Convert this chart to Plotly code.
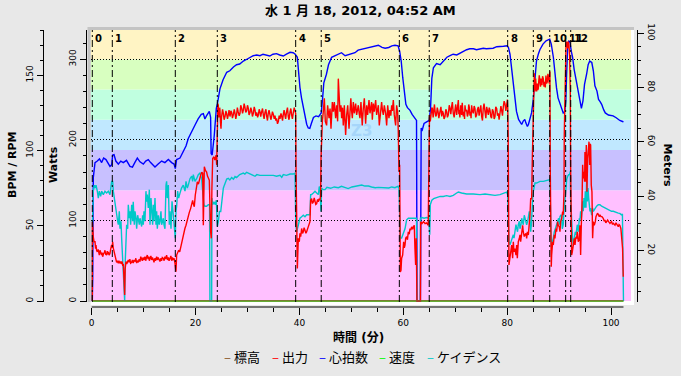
import plotly.graph_objects as go

# ---------------- text ----------------
TITLE = "水 1 月 18, 2012, 04:52 AM"
X_TITLE = "時間 (分)"
Y_TITLES = ["BPM / RPM", "Watts", "Meters"]
SERIES_NAMES = ["標高", "出力", "心拍数", "速度", "ケイデンス"]
SERIES_COLORS = ["#8b5a2b", "#ff0000", "#0000ff", "#00ff00", "#00c8c8"]

# ---------------- laps ----------------
LAP_TIMES = [0.12, 3.97, 16.1, 24.19, 39.28, 44.2, 59.24, 65.0, 80.1, 85.04, 88.2, 91.27, 92.24]
LAP_LABELS = ["0", "1", "2", "3", "4", "5", "6", "7", "8", "9", "10", "11", "12"]

# ---------------- power zones (W) ----------------
ZONE_LOW = [0, 137.5, 187.5, 225, 262.5, 300]
ZONE_HIGH = [137.5, 187.5, 225, 262.5, 300, 336.4]
ZONE_COLORS = ["#ffc0ff", "#c8c0ff", "#c0e8ff", "#c0ffe0", "#d8ffc0", "#fff4c4"]
ZONE_LABEL = ["Z3"]
ZONE_LABEL_T = [52.0]
ZONE_LABEL_W = [210.0]

# ---------------- series (time in minutes) ----------------
HR_PTS = [
(0.12,0),(0.2,15),(0.31,82),(0.64,92),(1.08,93),(1.5,94.4),(1.92,92),(2.3,95),(2.75,94),(3.2,91),(3.52,89.5),
(3.85,90.5),(4.04,97),(4.3,97.3),(4.65,93),(5.13,91),(5.6,93),(6.09,92),(6.7,93.5),(7.37,89.5),(7.85,89),
(8.3,92),(8.79,95),(9.3,92.5),(9.94,91),(10.4,93),(10.9,94),(11.35,92),(12.19,89),(12.8,91),(13.47,93),
(14.1,92),(14.76,94),(15.4,92),(15.86,91),(16.1,88),(16.35,94),(17.0,95),(17.6,99.5),(18.16,103),(18.6,108),
(19.26,113),(19.9,117),(20.5,121),(21.1,124),(21.5,124.5),(21.8,121),(22.1,123),(22.65,126),(22.9,122),
(23.0,98),(23.2,97),(23.6,110),(24.0,128),(24.2,131),(24.7,141),(25.3,147),(26.0,152),(26.6,153),(27.3,155.5),
(27.9,157),(28.5,157.5),(29.2,159.5),(29.8,160.5),(30.5,162),(31.1,163),(31.8,163.5),(32.4,163),(33.0,164),
(33.7,163.5),(34.3,162.8),(34.9,164),(35.6,164.4),(36.2,163.5),(36.9,162.8),(37.5,164),(38.2,165.3),(38.8,165),
(39.2,164),(39.6,162),(39.8,150.7),(40.1,142),(40.4,135),(40.8,127),(41.1,122),(41.4,117.5),(41.7,115),
(42.0,114.7),(42.3,118),(42.7,122),(43.2,123),(43.7,122.5),(44.0,124),(44.2,125),(44.45,134),(44.7,145),
(45.2,150.7),(45.6,157),(46.2,162),(46.85,163),(47.5,164),(48.1,165),(48.8,163),(49.4,163.5),(50.0,164),
(50.7,165),(51.3,166.7),(52.0,167.3),(52.6,167.6),(53.3,168),(53.9,168.5),(54.6,169.6),(55.2,170),(55.9,168.5),
(56.5,168),(57.2,168.5),(57.8,169.6),(58.4,170),(59.0,169.6),(59.3,166),(59.6,159.5),(59.9,148.4),(60.2,137),
(60.5,130.7),(60.8,128.5),(61.3,126.7),(61.7,124),(62.2,121.8),(62.55,120),(62.65,0),(63.3,0),(63.35,36),
(63.45,115),(63.6,113),(64.0,118),(64.5,119),(65.0,120),(65.25,128),(65.5,148),(65.8,155),(66.4,157.8),
(67.1,157),(67.7,159.5),(68.4,162),(69.0,163),(69.6,164),(70.3,163.5),(70.9,164.5),(71.5,166),(72.2,167),
(72.8,167.6),(73.5,167.6),(74.1,167),(74.8,167.6),(75.4,168),(76.0,167.6),(76.7,167.6),(77.3,168),(78.0,169),
(78.6,169),(79.3,169.3),(80.0,169.6),(80.25,168.5),(80.55,164),(80.9,153),(81.2,141.8),(81.5,133),(81.8,126),
(82.2,120.7),(82.5,118.4),(82.8,117.3),(83.1,119.6),(83.4,120.7),(83.6,118.4),(83.9,116),(84.1,117.3),
(84.4,120.7),(84.7,125),(85.0,133),(85.35,148),(85.65,159.5),(86.0,164),(86.3,167),(86.9,170.7),(87.5,172.9),
(88.2,174),(88.5,170.7),(88.9,162),(89.2,150.7),(89.5,141.8),(89.8,135),(90.2,130.7),(90.5,127),(90.8,125),
(91.1,126),(91.3,133),(91.45,150),(91.65,168),(91.85,173),(92.1,172),(92.35,166),(92.6,162),(92.9,154),
(93.3,146),(93.7,139.5),(94.0,133),(94.3,128),(94.6,133),(94.9,144),(95.3,150.7),(95.6,157),(95.9,159.5),
(96.3,158.5),(96.6,153),(96.9,143),(97.3,139.5),(97.6,134),(97.9,132.5),(98.2,130.7),(98.6,127),(98.9,125),
(99.5,123.6),(100.4,123),(101.0,121.8),(101.4,120.7),(101.7,120),(102.2,119.3),(102.4,119)]

PW_PTS = [
(0.12,0),(0.14,98),(0.3,80),(0.45,73.6),(0.64,73.6),(0.75,65),(0.83,69.5),(0.95,63),(1.08,61),(1.25,64),
(1.35,58),(1.47,57),(1.6,63),(1.73,61),(1.9,57),(2.0,60),(2.11,55),(2.3,59),(2.45,60),(2.56,63),(2.7,58),
(2.88,57),(3.0,62),(3.1,58),(3.2,61),(3.35,57),(3.52,59),(3.65,64),(3.84,69.5),(3.95,66),(4.04,73.6),
(4.15,66),(4.29,61),(4.45,57),(4.55,52),(4.68,51),(4.8,48),(4.95,50),(5.13,46.8),(5.25,50),(5.4,47),
(5.58,49),(5.7,46),(5.85,49),(5.96,44.7),(6.1,45),(6.22,28),(6.35,7.4),(6.45,40),(6.6,49),(6.75,46),
(6.9,50),(7.05,51),(7.2,48),(7.35,52),(7.5,47),(7.7,48),(7.85,51),(8.0,47),(8.15,50),(8.34,49.6),(8.5,53),
(8.65,47),(8.8,50),(8.98,48),(9.15,52),(9.3,49),(9.45,55),(9.62,53),(9.75,50),(9.9,54),(10.05,51),(10.26,55),
(10.4,50),(10.55,54),(10.71,57),(10.85,52),(11.0,55),(11.1,50),(11.23,53),(11.4,56),(11.55,51),(11.7,54),
(11.87,51),(12.0,48),(12.15,53),(12.3,50),(12.51,55),(12.65,51),(12.8,54),(13.0,50),(13.15,49),(13.3,53),
(13.45,50),(13.6,54),(13.79,53),(13.95,50),(14.1,55),(14.25,52),(14.43,57),(14.6,51),(14.75,54),(14.9,50),
(15.08,53),(15.25,56),(15.4,50),(15.55,54),(15.72,51),(15.88,53),(16.04,46.8),(16.15,40),(16.23,36.4),
(16.36,57),(16.55,60),(16.75,63),(16.95,61),(17.13,67),(17.3,70),(17.52,77.8),(17.77,88),(17.95,90),
(18.16,94),(18.35,100),(18.6,106.7),(18.8,110),(19.06,115),(19.25,120),(19.44,125),(19.6,120),(19.76,117),
(19.95,131.6),(20.15,140),(20.34,148),(20.55,145),(20.73,150),(20.85,155),(20.98,156),(21.2,160),
(21.37,158.5),(21.5,94),(21.6,160),(21.69,166.7),(21.9,162),(22.13,160),(22.3,155),(22.45,152),(22.65,150),
(22.9,86),(23.03,77.8),(23.15,140),(23.3,177),(23.55,179),(23.7,175),(23.8,177),(23.95,181),(24.07,169),
(24.19,235),(24.3,245),(24.38,243),(24.48,228),(24.58,231),(24.65,240),(24.7,237),(24.8,222),(24.9,214),
(25.0,228),(25.1,231),(25.2,238),(25.35,233),(25.5,225),(25.67,229),(25.85,236),(26.0,232),(26.15,226),
(26.3,231),(26.45,237),(26.63,229),(26.8,236),(26.95,234),(27.1,227),(27.27,231),(27.45,238),(27.6,233),
(27.75,226),(27.9,231),(28.05,240),(28.2,235),(28.4,230),(28.56,233),(28.7,243),(28.88,239),(29.05,233),
(29.2,237),(29.35,245),(29.5,241),(29.67,234),(29.84,236),(30.0,243),(30.16,239),(30.3,231),(30.48,234),
(30.65,240),(30.8,236),(30.95,229),(31.12,233),(31.3,241),(31.45,237),(31.6,230),(31.77,234),(31.95,228),
(32.1,231),(32.25,238),(32.4,235),(32.55,229),(32.7,234),(32.9,239),(33.05,231),(33.2,226),(33.37,234),
(33.55,238),(33.7,229),(33.85,224),(34.0,233),(34.15,237),(34.33,231),(34.5,225),(34.65,229),(34.8,235),
(34.97,232),(35.15,226),(35.3,230),(35.45,224),(35.6,226.7),(35.78,220),(35.94,222.6),(36.1,230),(36.26,226),
(36.45,233),(36.6,229),(36.75,224),(36.9,232),(37.05,237),(37.2,231),(37.35,226),(37.5,234),(37.7,240),
(37.86,229),(38.0,225),(38.2,235),(38.35,239),(38.5,231),(38.65,226),(38.83,234),(39.0,240),(39.15,236),
(39.28,233),(39.34,169),(39.47,53),(39.6,40.5),(39.79,77.8),(39.98,73.6),(40.1,84),(40.25,80),(40.43,90),
(40.6,84),(40.75,86),(40.9,91),(41.07,88),(41.25,84),(41.39,86),(41.55,90),(41.71,92),(41.85,95),(42.03,98.5),
(42.16,125),(42.35,127),(42.5,121),(42.68,123),(42.85,128),(43.0,125),(43.15,120),(43.32,121),(43.5,126),
(43.64,123),(43.8,127),(43.96,125),(44.08,130),(44.16,177),(44.28,214),(44.41,222.6),(44.6,235),(44.8,251.6),
(44.99,222.6),(45.24,218),(45.43,243),(45.7,227),(45.9,239),(46.08,214),(46.34,247),(46.53,235),(46.72,247),
(46.98,227),(47.17,243),(47.36,223),(47.49,276),(47.62,247),(47.81,235),(48.0,243),(48.13,227),(48.3,240),
(48.45,218),(48.65,243),(48.9,206),(49.1,231),(49.3,243),(49.55,214),(49.74,239),(49.9,251.6),(50.05,236),
(50.19,227),(50.38,247),(50.57,233),(50.83,245),(51.02,231),(51.2,238),(51.34,243),(51.5,233),(51.66,227),
(51.85,247),(52.1,218),(52.3,239),(52.5,251.6),(52.75,220),(52.95,243),(53.14,231),(53.4,249.5),(53.59,233),
(53.75,240),(53.9,247),(54.04,225),(54.23,245),(54.42,235),(54.68,249.5),(54.87,231),(55.05,238),(55.2,243),
(55.38,218),(55.6,237),(55.83,247),(56.0,236),(56.16,231),(56.35,243),(56.6,233),(56.8,218),(57.0,243),
(57.24,227),(57.43,237),(57.6,230),(57.76,243),(57.9,236),(58.08,249.5),(58.27,231),(58.53,218),(58.72,243),
(58.91,235),(59.04,210),(59.17,160.5),(59.3,169),(59.43,36),(59.56,38),(59.68,53),(59.88,57),(60.07,73.6),
(60.2,66),(60.33,69.5),(60.46,77.8),(60.65,80),(60.8,76),(60.97,86),(61.15,83),(61.29,90),(61.45,88),
(61.6,92),(61.8,89),(61.93,92),(62.12,94),(62.25,65),(62.38,44.7),(62.5,77.8),(62.63,0),(63.3,0),
(63.35,98.5),(63.6,96),(63.9,98.5),(64.2,96),(64.5,97),(64.8,94),(64.95,158),(65.05,231),(65.2,223),
(65.35,231),(65.5,240),(65.6,239),(65.75,228),(65.85,233),(66.0,244),(66.1,237),(66.25,229),(66.4,231),
(66.55,240),(66.7,235),(66.85,227),(67.0,233),(67.1,235),(67.25,241),(67.4,229),(67.55,236),(67.7,233),
(67.85,226),(68.03,229),(68.2,238),(68.35,235),(68.5,228),(68.67,231),(68.85,243),(68.99,239),(69.15,232),
(69.3,241),(69.45,247),(69.63,233),(69.8,228),(69.95,237),(70.1,244),(70.28,231),(70.45,238),(70.6,249.5),
(70.7,232),(70.79,237),(70.9,228),(71.05,243),(71.15,236),(71.24,231),(71.35,246),(71.43,241),(71.55,229),
(71.69,235),(71.8,226),(71.88,243),(72.0,236),(72.2,237),(72.35,229),(72.5,233),(72.6,244),(72.7,241),
(72.85,230),(72.97,235),(73.05,227),(73.16,243),(73.3,236),(73.48,233),(73.65,242),(73.8,239),(73.95,228),
(74.13,231),(74.3,238),(74.45,241),(74.6,230),(74.77,235),(74.93,243),(75.09,229),(75.25,224),(75.4,239),
(75.55,245),(75.74,235),(75.9,227),(76.06,241),(76.2,233),(76.38,231),(76.55,240),(76.7,237),(76.85,229),
(77.0,227),(77.17,238),(77.34,235),(77.5,226),(77.66,229),(77.8,241),(77.98,239),(78.15,230),(78.3,233),
(78.45,225),(78.62,231),(78.8,242),(78.94,237),(79.1,230),(79.26,241),(79.42,248),(79.58,245),(79.75,236),
(79.9,243),(80.05,250),(80.12,239),(80.2,202),(80.35,44.7),(80.55,53),(80.67,57),(80.87,69.5),(81.06,53),
(81.19,73.6),(81.32,61),(81.5,65),(81.7,57),(81.83,69.5),(81.96,53),(82.15,73.6),(82.35,77.8),(82.47,82),
(82.6,73.6),(82.8,90),(82.99,94),(83.1,86),(83.3,80),(83.44,82),(83.63,84),(83.76,77.8),(83.89,86),(84.08,82),
(84.27,94),(84.4,106.7),(84.53,127),(84.72,127),(84.85,177),(84.98,218.5),(85.1,243),(85.23,282.6),(85.36,260),
(85.49,276),(85.6,265),(85.68,260),(85.81,270),(85.9,262),(86.0,264),(86.1,274),(86.19,280),(86.32,272),
(86.42,266),(86.5,276),(86.6,270),(86.7,268),(86.82,279),(86.96,276),(87.1,266),(87.22,272),(87.35,265),
(87.47,280),(87.6,270),(87.73,272),(87.85,282),(87.99,278),(88.1,270),(88.24,285),(88.3,165),(88.37,44.7),
(88.5,42.6),(88.57,57),(88.76,73.6),(88.89,69.5),(89.08,82),(89.21,77.8),(89.4,90),(89.53,86),(89.72,98.5),
(89.85,94),(90.04,92),(90.17,86),(90.3,98.5),(90.5,102.6),(90.69,111),(90.8,107),(90.95,135.7),(91.0,206),
(91.14,260),(91.27,280),(91.33,317.8),(91.46,322),(91.65,313.6),(91.78,322),(91.9,317.8),(92.03,305),
(92.16,260),(92.22,169),(92.3,77.8),(92.42,57),(92.55,61),(92.74,73.6),(92.94,77.8),(93.06,69.5),(93.25,79.6),
(93.38,77.8),(93.5,86),(93.7,73.6),(93.9,77.8),(94.0,94),(94.15,57),(94.28,94),(94.4,115),(94.54,169),
(94.66,152),(94.79,160.5),(94.92,148),(94.98,185),(95.1,148),(95.24,193.6),(95.37,135.7),(95.5,177),
(95.6,189.5),(95.76,197.8),(95.89,169),(95.95,195),(96.08,193.6),(96.2,144),(96.33,135.7),(96.46,77.8),
(96.6,98.5),(96.78,94),(96.98,98.5),(97.1,104.7),(97.23,107),(97.4,109),(97.55,107.6),(97.74,104.7),
(97.87,107),(98.07,104.7),(98.26,104.7),(98.5,102.6),(98.7,99),(98.83,100.5),(99.0,97),(99.16,98.5),
(99.35,100.5),(99.54,98.5),(99.8,96.4),(100.1,98.5),(100.3,95),(100.45,96.4),(100.77,94),(100.95,97),
(101.1,95),(101.4,92.3),(101.55,95),(101.7,94),(101.9,90),(102.1,77.8),(102.23,65),(102.3,44.7),(102.36,30)]

CAD_PTS = [
(0.12,0),(0.15,53),(0.31,73),(0.5,77),(0.64,75),(0.83,77),(1.08,73),(1.28,68.4),(1.47,73),(1.73,69.5),
(1.92,73),(2.24,70.7),(2.56,73),(2.88,71.8),(3.2,73),(3.52,70.7),(3.84,79.5),(4.04,79.5),(4.17,73),(4.49,64),
(4.81,55),(5.0,53),(5.13,50.7),(5.32,59.6),(5.45,48),(5.64,53),(5.77,41.8),(5.96,28),(6.09,10.7),(6.22,0),
(6.35,0),(6.48,28),(6.73,50.7),(6.93,48),(7.05,64),(7.25,55),(7.37,59.6),(7.5,50.7),(7.7,64),(7.89,53),
(8.0,66),(8.21,50.7),(8.34,59.6),(8.53,55),(8.66,48),(8.85,57),(8.98,53),(9.17,50.7),(9.3,55),(9.49,50.7),
(9.62,49.5),(9.81,57),(9.94,50.7),(10.07,59.6),(10.26,53),(10.45,73),(10.58,66),(10.71,70.7),(10.9,61.8),
(11.1,74),(11.23,50.7),(11.42,68.4),(11.55,59.6),(11.74,50.7),(11.87,64),(12.0,53),(12.19,68.4),(12.38,50.7),
(12.51,59.6),(12.64,48),(12.83,57),(13.02,50.7),(13.15,53),(13.34,59.6),(13.47,50.7),(13.79,55),(13.92,50.7),
(14.11,48),(14.31,77),(14.43,79.5),(14.56,68.4),(14.76,77),(14.95,50.7),(15.08,59.6),(15.27,48),(15.47,66.2),
(15.72,57),(15.91,50.7),(16.1,41.8),(16.23,59.6),(16.36,63),(16.55,73),(16.75,68.4),(17.0,71.7),(17.3,75),
(17.64,77),(17.97,73),(18.16,79.5),(18.41,75),(18.6,77),(18.93,81.3),(19.26,83),(19.44,79.5),(19.57,84),
(19.89,79.5),(20.2,81.3),(20.53,84),(20.85,85),(21.17,81.3),(21.37,73),(21.62,64),(21.8,63),(22.13,63),
(22.45,64),(22.7,64),(22.77,0),(23.1,0),(23.16,68.4),(23.3,64),(23.55,66),(23.8,64),(24.0,67),(24.1,50.7),
(24.2,49.5),(24.4,52.9),(24.6,59.5),(24.85,59.5),(25.05,66),(25.25,73),(25.35,75),(25.55,77),(25.75,78.4),
(26.0,81),(26.3,81.5),(26.6,80.4),(26.95,82),(27.3,81),(27.6,82.7),(27.9,82),(28.5,84),(28.9,84.4),(29.2,85),
(29.5,84.4),(29.84,85.5),(30.16,85),(30.5,84.6),(30.8,84),(31.1,83.5),(31.45,82.9),(31.8,84),(32.4,83.5),
(33.0,83.5),(33.7,84),(34.3,83.5),(34.97,83.5),(35.6,82.9),(36.26,83.5),(36.6,82.2),(36.9,84),(37.5,83.5),
(38.2,84.4),(38.83,84.4),(39.15,85),(39.3,50.7),(39.47,46),(39.8,50.7),(40.1,55),(40.43,56),(40.75,57),
(41.07,56),(41.4,57.3),(41.7,57.3),(42.03,57.3),(42.16,70.7),(42.35,70.7),(42.68,71.8),(43.0,73),(43.32,71.8),
(43.64,70.7),(43.83,76),(43.96,75),(44.16,59.5),(44.28,75),(44.6,74),(44.93,74),(45.3,75.5),(46.0,74.9),
(46.7,75.8),(47.5,75.3),(48.1,76.2),(48.8,75.5),(49.4,74.7),(50.1,75.8),(50.8,76.4),(51.3,76.7),(52.0,77.1),
(52.6,76.4),(53.3,76.4),(53.9,75.8),(54.6,75.3),(55.2,75.5),(55.9,75.3),(56.5,75.5),(57.2,75.1),(57.8,75.8),
(58.4,75.3),(58.9,76.2),(59.17,75),(59.3,57),(59.43,41.8),(59.68,41.8),(59.88,44),(60.07,46),(60.33,48),
(60.65,54),(60.97,55),(61.5,55),(62.0,55),(62.55,55),(62.63,0),(63.28,0),(63.3,55),(63.6,55.5),(64.0,55),
(64.5,55.5),(64.9,55),(64.97,46),(65.1,44),(65.2,64),(65.35,66),(65.5,67),(65.85,68),(66.4,68.7),(67.1,69.5),
(67.7,69.5),(68.35,70),(68.99,69.5),(69.63,70.2),(70.28,71.8),(70.6,72.4),(71.24,71.8),(72.2,71.1),(73.48,71.1),
(74.77,70.7),(75.74,71.1),(76.7,70.7),(77.66,70.2),(78.62,70.7),(79.26,71.8),(79.9,72.4),(80.1,70.7),(80.2,53),
(80.35,39.5),(80.55,37.3),(80.74,39.5),(80.87,41.8),(81.06,44),(81.19,44),(81.32,41.8),(81.5,46),(81.7,50.7),
(81.83,48.4),(82.0,46),(82.15,50.7),(82.35,53),(82.47,48),(82.67,50.7),(82.8,55),(82.99,51.8),(83.1,50.7),
(83.3,57),(83.5,53),(83.76,50.7),(83.95,53),(84.15,58),(84.27,59.6),(84.4,53),(84.53,46),(84.66,50.7),
(84.8,64),(84.92,68.4),(85.05,73),(85.17,76),(85.36,78.4),(85.68,78.4),(86.0,79),(86.32,79.5),(86.96,79.5),
(87.6,80),(88.24,80.7),(88.3,68.4),(88.4,41.8),(88.5,37.3),(88.7,39.5),(88.89,41.8),(89.08,46),(89.27,48),
(89.53,50.7),(89.72,53),(89.91,55),(90.04,50.7),(90.17,56),(90.37,57.3),(90.5,56),(90.62,48),(90.8,50.7),
(90.95,59.6),(91.14,66.2),(91.27,75),(91.46,80.7),(91.65,82.9),(91.85,84),(92.03,84),(92.16,86.2),(92.22,68.4),
(92.35,55),(92.48,50.7),(92.6,41.8),(92.74,37.3),(92.94,41.8),(93.12,46),(93.25,44),(93.38,48),(93.5,50.7),
(93.7,46),(93.9,55),(94.0,53),(94.15,59.6),(94.28,55),(94.4,59.6),(94.54,66.2),(94.66,59.6),(94.79,68.4),
(94.92,62),(95.05,73),(95.18,62),(95.3,79.5),(95.44,66.2),(95.57,75),(95.7,68.4),(95.83,64),(95.95,59.6),
(96.08,61.8),(96.27,57),(96.46,61.8),(96.6,59.6),(96.78,60.5),(96.98,61.8),(97.23,63),(97.55,64),(97.87,64),
(98.2,63),(98.5,62.4),(98.83,61.8),(99.16,61.3),(99.48,60.7),(99.8,60.2),(100.1,59.6),(100.45,59.6),
(100.77,59.1),(101.1,59.1),(101.4,58.4),(101.7,58.2),(102.0,57.3),(102.2,57.8),(102.3,33),(102.36,19.6),
(102.4,0)]

ELEV_T = [0.12, 102.4]
ELEV_M = [1.5, 1.5]
SPEED_T = [0.12, 102.4]
SPEED_V = [0, 0]

# ---------------- axis scales ----------------
X_RANGE = [-0.19, 103.85]
WATT_RANGE = [-1.24, 336.4]
BPM_RANGE = [-0.66, 180.1]
METER_RANGE = [1.10, 101.2]

# ---------------- layout geometry (pixels) ----------------
FIG_W, FIG_H = 681, 376
PX_L, PX_R, PX_T, PX_B = 43, 637, 30, 307
CANVAS_L, CANVAS_R, CANVAS_B = 90.7, 631, 302
WATT_AXIS_X = 86
BG = "#e8e8e8"

def fx(px):
    return (px - PX_L) / (PX_R - PX_L)

def fy(py):
    return (PX_B - py) / (PX_B - PX_T)

def unzip(pts):
    return [p[0] for p in pts], [p[1] for p in pts]

FONT = "DejaVu Sans, Noto Sans CJK JP, sans-serif"
CJK = "Noto Sans CJK JP, DejaVu Sans, sans-serif"

fig = go.Figure()

fig.add_trace(go.Scatter(x=ZONE_LABEL_T, y=ZONE_LABEL_W, mode="text", text=["<b>%s</b>" % s for s in ZONE_LABEL],
                         textfont=dict(color="#a6d6fa", size=15, family=FONT), yaxis="y2",
                         hoverinfo="skip", showlegend=False))

fig.add_trace(go.Scatter(x=SPEED_T, y=SPEED_V, mode="lines", line=dict(color=SERIES_COLORS[3], width=1.3),
                         yaxis="y", name=SERIES_NAMES[3], showlegend=False))
fig.add_trace(go.Scatter(x=ELEV_T, y=ELEV_M, mode="lines", line=dict(color=SERIES_COLORS[0], width=1.3),
                         yaxis="y3", name=SERIES_NAMES[0], showlegend=False))
pt, pv = unzip(PW_PTS)
fig.add_trace(go.Scatter(x=pt, y=pv, mode="lines", line=dict(color=SERIES_COLORS[1], width=1.4),
                         yaxis="y2", name=SERIES_NAMES[1], showlegend=False))
ht, hv = unzip(HR_PTS)
fig.add_trace(go.Scatter(x=ht, y=hv, mode="lines", line=dict(color=SERIES_COLORS[2], width=1.4),
                         yaxis="y", name=SERIES_NAMES[2], showlegend=False))
ct, cv = unzip(CAD_PTS)
fig.add_trace(go.Scatter(x=ct, y=cv, mode="lines", line=dict(color=SERIES_COLORS[4], width=1.4),
                         yaxis="y", name=SERIES_NAMES[4], showlegend=False))

shapes = []
for lo, hi, col in zip(ZONE_LOW, ZONE_HIGH, ZONE_COLORS):
    shapes.append(dict(type="rect", xref="x domain", yref="y2", x0=0, x1=1, y0=lo, y1=hi,
                       fillcolor=col, line=dict(width=0), layer="below"))
for t in LAP_TIMES:
    shapes.append(dict(type="line", xref="x", yref="y domain", x0=t, x1=t, y0=0, y1=1,
                       line=dict(color="black", width=1, dash="7px,3px,2px,3px"), layer="above"))
shapes.append(dict(type="rect", xref="paper", yref="paper", x0=fx(CANVAS_L - 3), x1=fx(CANVAS_R + 3),
                   y0=fy(PX_T), y1=fy(PX_T - 3), fillcolor="#c4c4c4", line=dict(width=0), layer="above"))
shapes.append(dict(type="rect", xref="paper", yref="paper", x0=fx(CANVAS_L - 3), x1=fx(CANVAS_L),
                   y0=fy(CANVAS_B), y1=fy(PX_T - 3), fillcolor="#c4c4c4", line=dict(width=0), layer="above"))
shapes.append(dict(type="rect", xref="paper", yref="paper", x0=fx(CANVAS_R), x1=fx(CANVAS_R + 3),
                   y0=fy(CANVAS_B + 3), y1=fy(PX_T), fillcolor="#ffffff", line=dict(width=0), layer="above"))
shapes.append(dict(type="rect", xref="paper", yref="paper", x0=fx(CANVAS_L), x1=fx(CANVAS_R + 3),
                   y0=fy(CANVAS_B + 3), y1=fy(CANVAS_B), fillcolor="#ffffff", line=dict(width=0), layer="above"))
shapes.append(dict(type="line", xref="x", yref="paper", x0=0, x1=max(ht), y0=0, y1=0,
                   line=dict(color="black", width=1), layer="above"))

annotations = []
for t, lab in zip(LAP_TIMES, LAP_LABELS):
    annotations.append(dict(x=t, xref="x", y=fy(38.5), yref="paper", text="<b>%s</b>" % lab,
                            showarrow=False, xanchor="left", yanchor="middle", xshift=1,
                            font=dict(size=10, color="black", family=FONT)))
annotations.append(dict(x=fx(360), y=fy(11), xref="paper", yref="paper", text="<b>%s</b>" % TITLE,
                        showarrow=False, xanchor="center", yanchor="middle",
                        font=dict(size=13, color="black", family=FONT)))
annotations.append(dict(x=fx(358), y=fy(337), xref="paper", yref="paper", text="<b>%s</b>" % X_TITLE,
                        showarrow=False, xanchor="center", yanchor="middle",
                        font=dict(size=12, color="black", family=FONT)))
annotations.append(dict(x=fx(12), y=fy(165), xref="paper", yref="paper", text="<b>%s</b>" % Y_TITLES[0],
                        showarrow=False, textangle=-90, xanchor="center", yanchor="middle",
                        font=dict(size=11, color="black", family=FONT)))
annotations.append(dict(x=fx(53), y=fy(165), xref="paper", yref="paper", text="<b>%s</b>" % Y_TITLES[1],
                        showarrow=False, textangle=-90, xanchor="center", yanchor="middle",
                        font=dict(size=11, color="black", family=FONT)))
annotations.append(dict(x=fx(667.5), y=fy(165), xref="paper", yref="paper", text="<b>%s</b>" % Y_TITLES[2],
                        showarrow=False, textangle=90, xanchor="center", yanchor="middle",
                        font=dict(size=11, color="black", family=FONT)))
LEGEND_X = [222, 270, 317, 377, 425]
for px, name, col in zip(LEGEND_X, SERIES_NAMES, SERIES_COLORS):
    annotations.append(dict(x=fx(px), y=fy(356), xref="paper", yref="paper",
                            text='<span style="color:%s">–</span> %s' % (col, name),
                            showarrow=False, xanchor="left", yanchor="middle",
                            font=dict(size=13, color="black", family=CJK)))

tickfont = dict(size=9, color="black", family=FONT)
fig.update_layout(
    width=FIG_W, height=FIG_H,
    margin=dict(l=PX_L, r=FIG_W - PX_R, t=PX_T, b=FIG_H - PX_B, pad=0),
    paper_bgcolor=BG, plot_bgcolor="#ffffff",
    showlegend=False, hovermode=False,
    xaxis=dict(domain=[fx(CANVAS_L), fx(CANVAS_R)], range=X_RANGE, anchor="free", position=0,
               showline=False, showgrid=False, zeroline=False, ticks="outside", ticklen=7,
               tickcolor="black", tickwidth=1, tick0=0, dtick=20, tickfont=tickfont,
               minor=dict(dtick=5, tick0=0, ticklen=4, tickcolor="black", ticks="outside")),
    yaxis=dict(domain=[fy(CANVAS_B), 1], range=BPM_RANGE, anchor="free", position=0, side="left",
               showline=True, linecolor="black", linewidth=1, showgrid=False, zeroline=False,
               ticks="outside", ticklen=6, tickcolor="black", tick0=0, dtick=50, tickangle=-90,
               tickfont=tickfont, minor=dict(dtick=10, tick0=0, ticklen=3, tickcolor="black", ticks="outside")),
    yaxis2=dict(overlaying="y", range=WATT_RANGE, anchor="free", position=fx(WATT_AXIS_X), side="left",
                showline=True, linecolor="black", linewidth=1, showgrid=True, gridcolor="black",
                gridwidth=1, griddash="1px,2px", zeroline=False,
                ticks="outside", ticklen=6, tickcolor="black", tick0=0, dtick=100, tickangle=-90,
                tickfont=tickfont, minor=dict(dtick=20, tick0=0, ticklen=3, tickcolor="black", ticks="outside")),
    yaxis3=dict(overlaying="y", range=METER_RANGE, anchor="free", position=1, side="right",
                showline=True, linecolor="black", linewidth=1, showgrid=False, zeroline=False,
                ticks="outside", ticklen=6, tickcolor="black", tick0=0, dtick=20, tickangle=90,
                tickfont=tickfont, minor=dict(dtick=5, tick0=0, ticklen=3, tickcolor="black", ticks="outside")),
    shapes=shapes, annotations=annotations,
)

fig.write_html("out.html", config={"displayModeBar": False, "staticPlot": True},
               post_script="document.body.style.margin='0';document.body.style.background='%s';" % BG)
